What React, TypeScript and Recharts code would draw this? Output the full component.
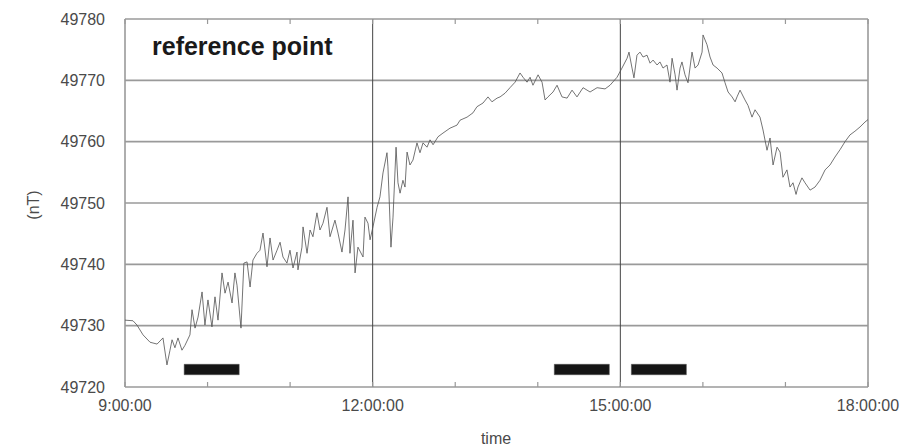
import React from 'react';
import {
  LineChart,
  Line,
  XAxis,
  YAxis,
  CartesianGrid,
  ReferenceLine,
  ReferenceArea,
} from 'recharts';

// Minutes after 9:00:00 and total field (nT) at each sample
const minutes: number[] = [
  0, 5.8, 8.7, 13.1, 18.2, 23.3, 27.6, 30.5, 32.7, 34.2, 36.3, 38.5, 41.4, 43.6,
  47.2, 48.7, 50.9, 53.1, 56.0, 58.1, 60.3, 63.2, 65.4, 67.6, 70.5, 72.7, 74.9,
  77.8, 79.9, 81.4, 84.3, 86.4, 88.7, 90.9, 93.0, 95.9, 98.1, 100.3, 103.2,
  105.4, 107.6, 110.5, 112.7, 114.8, 117.7, 119.9, 122.1, 125.0, 125.7, 128.6,
  129.4, 132.3, 134.5, 136.6, 139.5, 141.7, 143.9, 146.8, 149.0, 152.6, 154.8,
  157.7, 159.9, 162.1, 163.5, 165.7, 167.2, 169.3, 173.0, 174.4, 176.6, 178.1,
  180.2, 183.2, 185.3, 187.5, 190.4, 191.1, 193.3, 194.8, 197.0, 198.4, 199.9,
  202.0, 203.5, 205.0, 207.1, 209.3, 212.2, 214.4, 216.6, 219.5, 221.7, 223.9,
  227.5, 231.1, 236.2, 241.3, 243.5, 248.6, 252.9, 255.8, 260.2, 263.8, 266.7,
  270.4, 272.6, 276.2, 279.8, 283.5, 287.1, 289.3, 292.2, 294.4, 296.5, 300.2,
  303.1, 305.3, 307.4, 311.1, 314.0, 317.6, 321.3, 324.9, 328.5, 332.9, 338.0,
  343.1, 348.9, 352.5, 357.6, 361.2, 364.9, 366.3, 368.5, 369.9, 372.1, 374.3,
  376.5, 379.4, 381.6, 383.8, 386.7, 388.8, 391.0, 393.9, 396.1, 397.6, 399.8,
  401.2, 403.4, 404.8, 407.0, 409.2, 412.1, 414.3, 416.5, 419.4, 420.1, 423.0,
  425.2, 427.4, 430.3, 433.9, 436.1, 438.3, 441.2, 443.4, 444.8, 447.0, 450.6,
  452.8, 455.7, 457.9, 461.5, 463.7, 466.6, 468.8, 471.0, 473.9, 476.1, 478.2,
  481.1, 483.3, 485.5, 487.7, 489.1, 492.0, 494.2, 497.9, 501.5, 505.1, 508.8,
  512.4, 516.0, 519.7, 523.3, 526.9, 530.5, 534.2, 537.8, 540,
];

const fieldNT: number[] = [
  49730.9, 49730.8, 49730.1, 49728.5, 49727.3, 49727.0, 49728.0, 49723.6,
  49726.0, 49727.7, 49726.4, 49728.0, 49726.0, 49726.8, 49728.5, 49732.6,
  49729.6, 49731.4, 49735.5, 49730.1, 49734.2, 49729.8, 49734.7, 49730.9,
  49738.6, 49735.3, 49737.1, 49733.7, 49738.6, 49736.6, 49729.6, 49740.2,
  49740.4, 49736.3, 49740.7, 49741.8, 49742.3, 49745.1, 49739.6, 49744.3,
  49740.7, 49742.3, 49743.6, 49741.2, 49740.2, 49742.3, 49739.4, 49742.0,
  49739.1, 49742.8, 49746.1, 49741.8, 49745.6, 49744.5, 49748.4, 49745.6,
  49746.7, 49749.3, 49744.5, 49747.2, 49745.1, 49742.0, 49745.6, 49751.0,
  49741.8, 49747.2, 49738.6, 49742.8, 49741.2, 49747.7, 49746.7, 49744.0,
  49746.1, 49749.3, 49751.0, 49754.9, 49758.2, 49755.9, 49742.8, 49747.7,
  49759.1, 49753.3, 49751.6, 49753.7, 49752.6, 49758.3, 49756.2, 49757.0,
  49759.8, 49758.2, 49759.8, 49759.1, 49760.3, 49759.5, 49760.8, 49761.4,
  49762.2, 49762.7, 49763.5, 49764.0, 49764.7, 49765.7, 49766.3, 49767.3,
  49766.5, 49767.1, 49767.3, 49767.9, 49768.8, 49769.7, 49771.2, 49770.5,
  49769.7, 49770.5, 49769.2, 49770.9, 49769.7, 49766.8, 49767.3, 49768.1,
  49769.2, 49767.3, 49767.1, 49768.4, 49767.3, 49768.8, 49768.1, 49768.8,
  49768.6, 49769.2, 49770.5, 49772.0, 49773.6, 49774.6, 49772.0, 49770.4,
  49774.1, 49774.6, 49773.8, 49774.1, 49772.8, 49773.3, 49772.5, 49773.0,
  49772.0, 49772.5, 49769.7, 49773.6, 49770.9, 49768.4, 49772.0, 49773.0,
  49770.9, 49769.6, 49774.6, 49772.0, 49772.5, 49774.6, 49777.4, 49775.8,
  49773.8, 49772.5, 49772.0, 49771.2, 49769.6, 49768.1, 49767.3, 49766.5,
  49767.3, 49768.4, 49766.8, 49765.9, 49764.0, 49765.2, 49764.0, 49761.9,
  49758.6, 49760.6, 49756.2, 49759.1, 49758.3, 49754.2, 49755.4, 49752.6,
  49753.3, 49751.4, 49752.6, 49754.1, 49753.3, 49752.1, 49752.6, 49753.7,
  49755.4, 49756.2, 49757.5, 49758.7, 49760.0, 49761.1, 49761.7, 49762.4,
  49763.2, 49763.6,
];

// Observation intervals marked as black bars [start, end] in minutes
const barStart: number[] = [43, 312, 368];
const barEnd: number[] = [83, 352, 408];
const barLow = 49722.0;
const barHigh = 49723.7;

const hourTicks: number[] = [0, 60, 120, 180, 240, 300, 360, 420, 480, 540];
const timeLabels: Record<number, string> = {
  0: '9:00:00',
  180: '12:00:00',
  360: '15:00:00',
  540: '18:00:00',
};
const fieldTicks: number[] = [49720, 49730, 49740, 49750, 49760, 49770, 49780];

const rows = minutes.map((t, i) => ({ t, v: fieldNT[i] }));

const W = 902;
const H = 447;
const TOP = 19;
const PLOT_H = 368;
const FONT = '"Liberation Sans", Arial, sans-serif';
const TEXT = '#4a4a4a';

const TimeTick = (props: any) => {
  const { x, y, payload } = props;
  const label = timeLabels[payload.value];
  return (
    <g>
      <line x1={x} x2={x} y1={y} y2={y - 5} stroke="#999" strokeWidth={1.2} />
      <line x1={x} x2={x} y1={y - PLOT_H} y2={y - PLOT_H + 5} stroke="#999" strokeWidth={1.2} />
      {label && (
        <text x={x} y={y + 24} textAnchor="middle" fontSize={16} fill={TEXT} fontFamily={FONT}>
          {label}
        </text>
      )}
    </g>
  );
};

export default function App() {
  return (
    <div style={{ width: W, height: H, background: '#fff' }}>
      <style>{'body{margin:0;background:#fff}'}</style>
      <LineChart
        width={W}
        height={H}
        data={rows}
        margin={{ top: TOP, right: 34, bottom: 0, left: 0 }}
      >
        <CartesianGrid vertical={false} stroke="#9a9a9a" strokeWidth={1.6} />
        <XAxis
          dataKey="t"
          type="number"
          domain={[0, 540]}
          ticks={hourTicks}
          height={60}
          axisLine={false}
          tickLine={false}
          tickSize={0}
          tickMargin={0}
          tick={<TimeTick />}
          interval={0}
        />
        <YAxis
          domain={[49720, 49780]}
          ticks={fieldTicks}
          width={125}
          axisLine={false}
          tickLine={false}
          tickSize={0}
          tickMargin={20}
          tick={{ fontSize: 16, fill: TEXT, fontFamily: FONT }}
          interval={0}
        />
        <ReferenceLine x={0} stroke="#9a9a9a" strokeWidth={1.6} />
        <ReferenceLine x={540} stroke="#9a9a9a" strokeWidth={1.6} />
        <ReferenceLine x={180} stroke="#444" strokeWidth={1} />
        <ReferenceLine x={360} stroke="#444" strokeWidth={1} />
        <Line
          type="linear"
          dataKey="v"
          stroke="#505050"
          strokeWidth={0.8}
          dot={false}
          isAnimationActive={false}
        />
        {barStart.map((s, i) => (
          <ReferenceArea
            key={i}
            x1={s}
            x2={barEnd[i]}
            y1={barLow}
            y2={barHigh}
            fill="#151515"
            fillOpacity={1}
            stroke="#555"
            strokeWidth={0.5}
          />
        ))}
        <text x={152} y={55} fontSize={25} fontWeight="bold" fill="#1a1a1a" fontFamily={FONT}>
          reference point
        </text>
        <text
          x={33}
          y={205}
          fontSize={16}
          fill={TEXT}
          fontFamily={FONT}
          textAnchor="middle"
          dominantBaseline="central"
          transform="rotate(-90 33 205)"
        >
          (nT)
        </text>
        <text x={496} y={444} fontSize={16} fill={TEXT} fontFamily={FONT} textAnchor="middle">
          time
        </text>
      </LineChart>
    </div>
  );
}
